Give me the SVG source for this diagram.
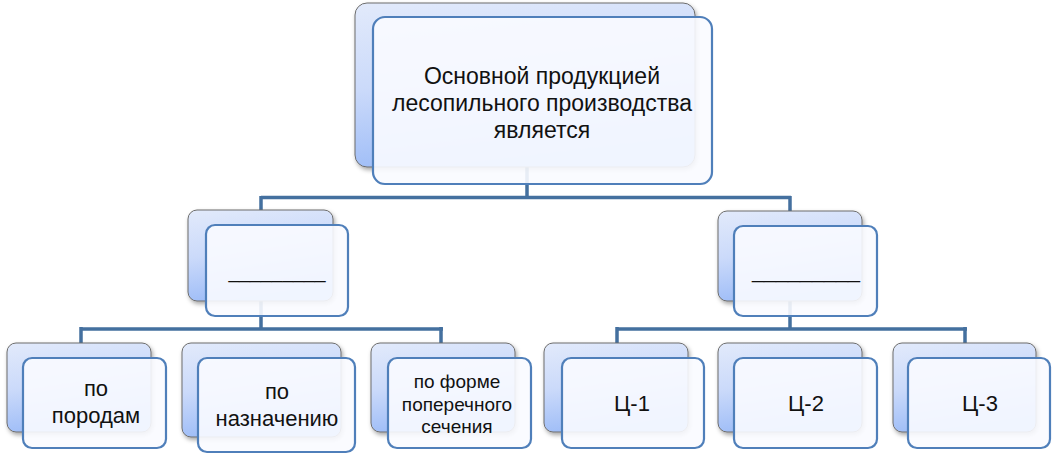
<svg xmlns="http://www.w3.org/2000/svg" width="1052" height="454" viewBox="0 0 1052 454">
<defs>
<linearGradient id="bg" x1="0" y1="0" x2="0.25" y2="1">
<stop offset="0" stop-color="#e2eafb"/>
<stop offset="0.5" stop-color="#cbdafa"/>
<stop offset="1" stop-color="#9dbcf7"/>
</linearGradient>
<filter id="sh" x="-10%" y="-10%" width="125%" height="130%">
<feDropShadow dx="1.5" dy="2.5" stdDeviation="2" flood-color="#000" flood-opacity="0.35"/>
</filter>
</defs>
<style>
.back{fill:url(#bg);stroke:#6d6d6d;stroke-width:1;filter:url(#sh)}
.front{fill:#f9fbff;fill-opacity:0.9;stroke:#4f7fba;stroke-width:2.2}
.con{stroke:#44709f;stroke-width:3.5;fill:none}
text{font-family:"Liberation Sans",Arial,sans-serif;fill:#111;text-anchor:middle}
.t23{font-size:23px}
.t22{font-size:22px}
.t19{font-size:19px}
</style>
<g id="connectors" class="con">
<path d="M527 165V197.5M261 197.5H791M261 196V212M790 196V212"/>
<path d="M261 300V329M81 329H443M81 327V345M441 327V345"/>
<path d="M790 300V329M617 329H967M617 327V345M965 327V345"/>
</g>
<g id="root">
<rect class="back" x="355" y="3" width="340" height="164" rx="12"/>
<rect class="front" x="373" y="17" width="339" height="167" rx="12"/>
<text class="t23"><tspan x="542" y="84">Основной продукцией</tspan><tspan x="542" y="111">лесопильного производства</tspan><tspan x="542" y="138">является</tspan></text>
</g>
<g id="mid-left">
<rect class="back" x="188" y="210" width="145" height="91" rx="9"/>
<rect class="front" x="206" y="225" width="142" height="91" rx="9"/>
<text class="t22" x="277" y="278" textLength="97" lengthAdjust="spacingAndGlyphs">_________</text>
</g>
<g id="mid-right">
<rect class="back" x="718" y="211" width="144" height="90" rx="9"/>
<rect class="front" x="734" y="226" width="143" height="90" rx="9"/>
<text class="t22" x="806" y="278" textLength="108" lengthAdjust="spacingAndGlyphs">_________</text>
</g>
<g id="n-porodam">
<rect class="back" x="7" y="343" width="144" height="89" rx="9"/>
<rect class="front" x="23" y="358" width="143" height="90" rx="9"/>
<text class="t22"><tspan x="96" y="396">по</tspan><tspan x="96" y="423">породам</tspan></text>
</g>
<g id="n-naznacheniyu">
<rect class="back" x="182" y="343" width="159" height="94" rx="9"/>
<rect class="front" x="198" y="358" width="157" height="94" rx="9"/>
<text class="t22"><tspan x="277" y="399">по</tspan><tspan x="277" y="426">назначению</tspan></text>
</g>
<g id="n-forme">
<rect class="back" x="371" y="343" width="144" height="89" rx="9"/>
<rect class="front" x="388" y="358" width="143" height="90" rx="9"/>
<text class="t19"><tspan x="457" y="388">по форме</tspan><tspan x="457" y="411">поперечного</tspan><tspan x="457" y="433">сечения</tspan></text>
</g>
<g id="n-c1">
<rect class="back" x="544" y="343" width="144" height="89" rx="9"/>
<rect class="front" x="562" y="358" width="142" height="90" rx="9"/>
<text class="t22" x="632" y="411">Ц-1</text>
</g>
<g id="n-c2">
<rect class="back" x="718" y="343" width="144" height="89" rx="9"/>
<rect class="front" x="734" y="358" width="143" height="90" rx="9"/>
<text class="t22" x="806" y="411">Ц-2</text>
</g>
<g id="n-c3">
<rect class="back" x="893" y="343" width="143" height="89" rx="9"/>
<rect class="front" x="908" y="358" width="142" height="90" rx="9"/>
<text class="t22" x="980" y="411">Ц-3</text>
</g>
</svg>
